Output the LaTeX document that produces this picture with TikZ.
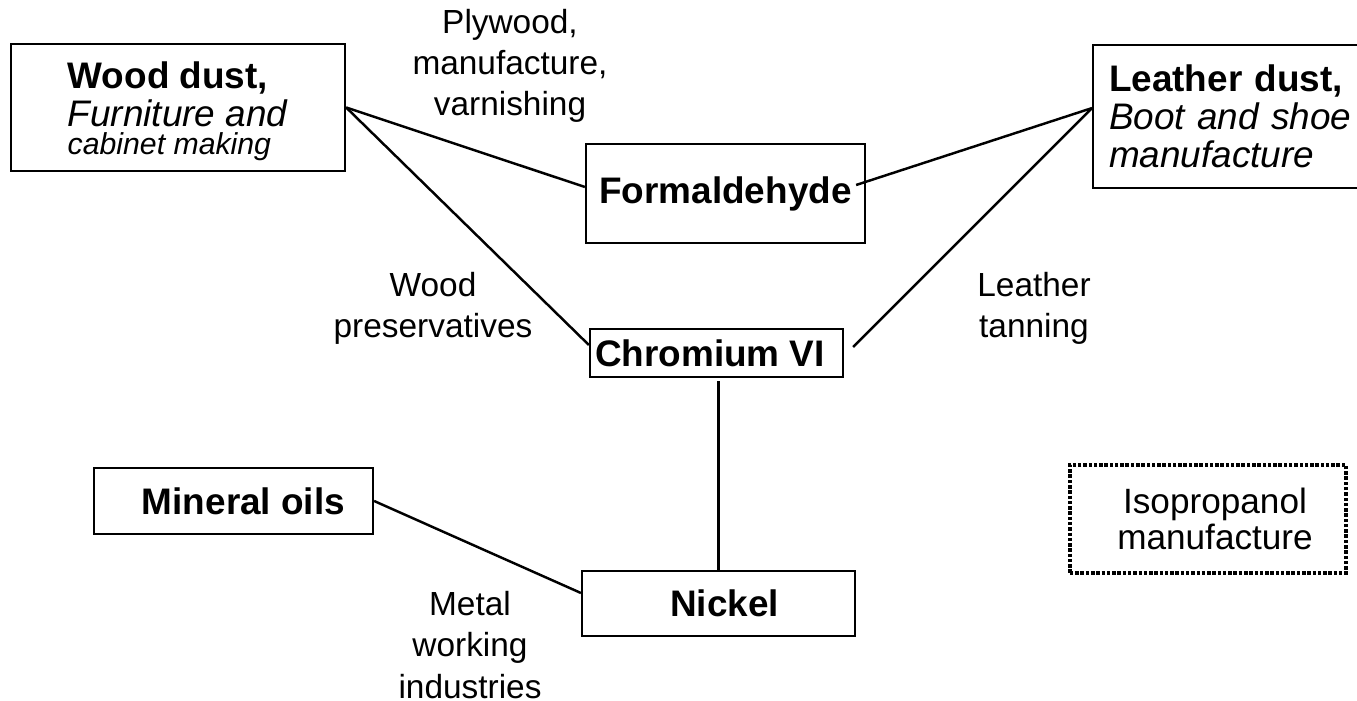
\documentclass[tikz,border=0pt]{standalone}
\usepackage{fontspec}
\setmainfont{Liberation Sans}
\tikzset{
  agent/.style={draw, line width=0.6pt, inner sep=0pt, font=\fontsize{10.5}{10.8}\selectfont},
  plainagent/.style={agent, font=\fontsize{10.5}{10.8}\selectfont\bfseries},
  otheragent/.style={agent, dash pattern=on 1pt off 0.5pt, line width=1.1pt, font=\fontsize{10}{10.4}\selectfont},
  use/.style={align=center, font=\fontsize{9.5}{11.7}\selectfont},
  link/.style={line width=0.7pt}
}

\begin{document}
\begin{tikzpicture}[x=0.01cm, y=-0.01cm]
\useasboundingbox (0,0) rectangle (1357,701);

\node[agent, minimum width=3.34cm, minimum height=1.27cm, align=left] (wood) at (178,107.5)
  {\rule{0pt}{0.34cm}\textbf{Wood dust,}\\\textit{Furniture and}\\[-3pt]{\fontsize{8.6}{9}\selectfont\itshape cabinet making}};
\node[agent, anchor=north west, text width=2.7cm, inner xsep=0.16cm, minimum height=1.43cm, align=left] (leather) at (1092,44)
  {\textbf{Leather dust,}\\\textit{Boot and shoe}\\\textit{manufacture}};
\node[plainagent, minimum width=2.79cm, minimum height=0.99cm] (form) at (725.5,193.5) {Formaldehyde};
\node[plainagent, minimum width=2.53cm, minimum height=0.48cm] (chrom) at (716.5,353) {\hspace*{-0.13cm}Chromium VI};
\node[plainagent, minimum width=2.79cm, minimum height=0.66cm] (oils) at (233.5,501) {\hspace*{0.2cm}Mineral oils};
\node[plainagent, minimum width=2.73cm, minimum height=0.65cm] (nickel) at (718.5,603.5) {\hspace*{0.12cm}Nickel};
\node[otheragent, minimum width=2.76cm, minimum height=1.08cm, align=center] (iso) at (1208,519) {\hspace*{0.14cm}Isopropanol\\\hspace*{0.14cm}manufacture};

\node[use] (plywood) at (510,66) {Plywood,\\manufacture,\\varnishing};
\node[use] (preserv) at (433,308) {Wood\\preservatives};
\node[use] (tanning) at (1034,308) {Leather\\tanning};
\node[use] (metal) at (470,645) {Metal\\working\\industries};

\draw[link] (wood.east) -- ([yshift=0.065cm]form.west);
\draw[link] (wood.east) -- ([yshift=0.08cm]chrom.west);
\draw[link] ([xshift=-0.1cm,yshift=0.085cm]form.east) -- ([yshift=0.085cm]leather.west);
\draw[link] ([xshift=0.09cm,yshift=0.06cm]chrom.east) -- ([yshift=0.085cm]leather.west);
\draw[link] ([yshift=-0.03cm]nickel.north |- chrom.south) -- (nickel.north);
\draw[link] (oils.east) -- ([yshift=0.105cm]nickel.west);
\end{tikzpicture}
\end{document}
